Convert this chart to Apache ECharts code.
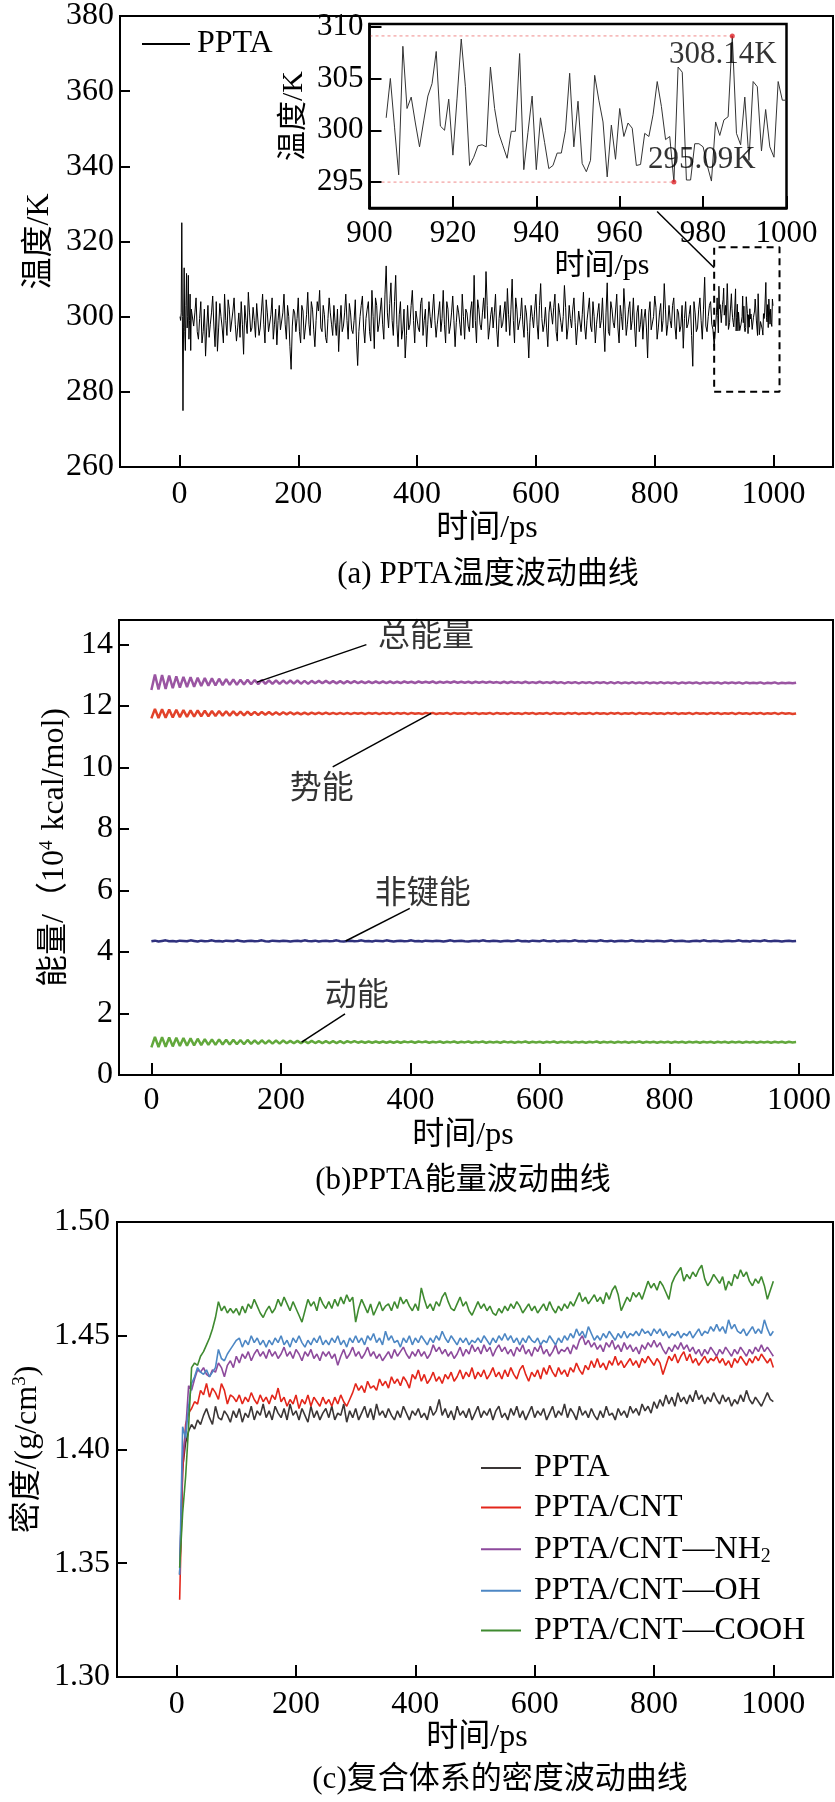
<!DOCTYPE html>
<html><head><meta charset="utf-8">
<script src="https://cdn.jsdelivr.net/npm/echarts@6/dist/echarts.min.js"></script>
<style>html,body{margin:0;padding:0;background:#fff}#c{width:835px;height:1802px}</style>
</head><body><div id="c"></div>
<script>
const FONT = "'Liberation Serif','Noto Sans CJK SC',serif";

// ---------- (a) temperature ----------
const aXTicks = [0, 200, 400, 600, 800, 1000];
const aYTicks = [260, 280, 300, 320, 340, 360, 380];
const aEarlyT = [1,2,3,4,5,6,7,8,9,10,11,12,13,14,15,16,17,18,19,20];
const aEarlyV = [300,299,301,325,300,275,297,313,296,291,303,311.5,297,300,311,294,299,306,291,302];
const aBandStart = 24, aBandStep = 4;
const aBandV = [
297.5,305,294,304,296,289.5,303,298,305.5,292,
290.8,303.5,297,306,295,302,296.5,305,293.5,301,
304,290,299,306.5,296,302.5,294.5,304,297,306,
293,301,296.5,305,298,292.5,303,297,306,294,
300,286,302,296,305,293,301.5,297,306.5,295,
302,292,304,307,296,300.5,293,305,298,303,
295,290.7,303,297.5,306,294,301,295.5,304.5,287,
300,305.5,293,302,296,307,291.5,303,298,305,
294,313.5,297,309,295,311,292,304,296.5,289,
303,298,307,293,301.5,296,305,299,292,304,
297,306,294.5,301,296,307,293,302,297.5,305.5,
292,303,298,306,294,301,296,304,311,293,
302,296.5,305,312,294,300.5,297,306,292,303,
298,304,307.5,295,310,293,302,297,305,294.5,
301,289,303,297,306,294,308.8,296,302.5,292,
304,298,306,293.5,301,296,308.3,294,303,297,
305,292.5,301.5,296,306.5,294,302,297.5,304,293,
301,297,305,290.7,309,295,302,297,306,293,
300,307.5,295,302,296.5,305,292,303,298,294,
302,289,304,297,305.5,294,301,296,308.8,295,
303,297,305,294,301,297.5,291.6,304,298,303,
286.8,301,297,305,294,310.5,296,303,298,292];
// values between the ones above (t = 26, 30, ... 898)
const aBandMidStart = 26;
const aBandMidV = [
301,296,299.5,293,302,297,294.5,301,297.5,304,
297,300,293,299,304.5,296,301.5,298,297,294.5,
298,303,295.5,301,297,299,303.5,295,301.5,298,
304.5,296,300.5,294,302,299,296.5,301,298,303,
292,297.5,301,299.5,296,303,294,300.5,298,304,
296.5,299,301.5,297,303,294.5,299.5,301,295,298.5,
302,298,296,301,299,303.5,296.5,299,293.5,296,
303,297,299.5,304,293.5,300,305,296,301.5,298,
306,301,303.5,299,304,298,300.5,294,302,295,
296.5,303,299,301.5,297,303.5,295,302,298,300,
301.5,299,298,304,299.5,298,304,295.5,301,299,
298.5,301,295,300,302,297.5,301.5,297,299,304.5,
298,301,299.5,303,297,302.5,301,296.5,299.5,297,
301,296,300.5,302,299,305,296.5,300,298,303,
296,298.5,300,302,298,303,299.5,298,297,301,
301,302.5,296,303.5,298.5,300,302.5,297,299.5,302,
298.5,297,302,300.5,297.5,299,305,296,300,298,
303.5,299,297,301,296,304,298.5,301.5,297,303,
296.5,302,298,304,299,297.5,301,296,302,299.5,
297,301,296.5,300,302.5,297,303.5,299,302,298,
299,303,297.5,302,296,303,299.5,297,300.5,295,
304,296,302,299,302,297.5,300,304,296.5];
const insetStart = 904;
const insetV = [
301.2,305.0,300.3,295.7,308.1,302.1,303.2,300.7,298.4,300.9,
303.3,304.5,307.6,300.4,300.0,303.0,297.6,303.1,308.8,304.2,
296.6,297.4,298.5,298.6,298.4,306.1,302.1,299.7,298.5,297.3,
299.9,299.9,307.4,296.2,299.8,303.3,296.2,301.2,298.8,296.3,
296.6,297.8,297.8,300.0,305.5,298.4,302.8,296.8,296.0,297.1,
305.3,302.9,300.8,295.5,300.5,297.2,302.1,299.4,300.7,300.2,
296.6,296.7,299.7,299.4,301.5,304.7,302.3,299.1,299.4,295.0,
306.1,305.6,295.2,295.2,298.7,298.7,298.4,296.6,295.1,300.8,
299.5,301.0,301.3,309.1,299.7,298.6,303.2,297.1,304.7,304.2,
298.0,302.0,298.4,297.4,304.7,302.9,302.9];
const insetXTicks = [900, 920, 940, 960, 980, 1000];
const insetYTicks = [295, 300, 305, 310];
const extremeT = [987, 973];
const extremeV = [309.1, 295.0];
const extremeText = ['308.14K', '295.09K'];
const extremeTextT = [971.8, 966.8];
const extremeTextV = [307.3, 297.1];
const zoomBoxX = [900, 1010];
const zoomBoxY = [280, 318.5];
const connectorT = [804, 900];
const connectorV = [328, 313];

// ---------- (b) energy ----------
const bXTicks = [0, 200, 400, 600, 800, 1000];
const bYTicks = [0, 2, 4, 6, 8, 10, 12, 14];
const bStep = 5.5;
const bTotal = [
12.52,13.03,12.54,13.01,12.56,12.99,12.58,12.97,12.60,12.95,
12.62,12.94,12.63,12.92,12.65,12.91,12.66,12.90,12.67,12.89,
12.68,12.88,12.69,12.87,12.69,12.86,12.70,12.86,12.71,12.85,
12.71,12.85,12.72,12.84,12.72,12.84,12.72,12.83,12.73,12.83,
12.73,12.83,12.73,12.82,12.73,12.82,12.74,12.82,12.74,12.82,
12.74,12.81,12.74,12.81,12.74,12.81,12.75,12.81,12.75,12.80,
12.75,12.80,12.75,12.80,12.75,12.80,12.75,12.80,12.75,12.79,
12.75,12.80,12.76,12.79,12.75,12.80,12.76,12.79,12.76,12.80,
12.75,12.79,12.76,12.79,12.76,12.80,12.76,12.79,12.76,12.79,
12.75,12.79,12.76,12.79,12.76,12.79,12.76,12.78,12.75,12.79,
12.75,12.79,12.76,12.78,12.75,12.79,12.75,12.78,12.75,12.79,
12.75,12.78,12.75,12.79,12.75,12.78,12.74,12.78,12.75,12.78,
12.74,12.78,12.75,12.78,12.74,12.78,12.75,12.78,12.74,12.78,
12.74,12.78,12.74,12.77,12.74,12.78,12.74,12.77,12.74,12.78,
12.74,12.77,12.74,12.78,12.74,12.77,12.74,12.77,12.73,12.77,
12.74,12.77,12.74,12.77,12.73,12.77,12.74,12.77,12.74,12.77,
12.73,12.77,12.74,12.77,12.74,12.77,12.73,12.77,12.74,12.76,
12.74,12.77,12.73,12.76,12.74,12.77,12.73,12.76,12.74,12.76,
12.74,12.76];
const bPotential = [
11.60,11.91,11.61,11.90,11.62,11.89,11.63,11.88,11.64,11.87,
11.65,11.86,11.66,11.86,11.67,11.85,11.67,11.84,11.68,11.84,
11.69,11.83,11.69,11.83,11.70,11.82,11.70,11.82,11.71,11.81,
11.71,11.81,11.72,11.81,11.72,11.80,11.72,11.80,11.73,11.80,
11.73,11.79,11.73,11.79,11.73,11.79,11.74,11.79,11.74,11.79,
11.74,11.78,11.74,11.78,11.74,11.78,11.74,11.78,11.75,11.78,
11.74,11.78,11.75,11.78,11.74,11.78,11.75,11.78,11.74,11.78,
11.75,11.78,11.74,11.78,11.75,11.77,11.74,11.78,11.75,11.78,
11.74,11.77,11.75,11.78,11.74,11.78,11.75,11.77,11.74,11.78,
11.75,11.78,11.74,11.77,11.75,11.78,11.74,11.78,11.75,11.77,
11.74,11.78,11.75,11.77,11.74,11.78,11.75,11.78,11.74,11.77,
11.75,11.78,11.74,11.78,11.75,11.77,11.74,11.78,11.75,11.78,
11.74,11.77,11.75,11.78,11.74,11.78,11.75,11.77,11.74,11.78,
11.75,11.78,11.74,11.77,11.75,11.78,11.74,11.78,11.75,11.77,
11.74,11.78,11.75,11.77,11.74,11.78,11.75,11.78,11.74,11.77,
11.75,11.78,11.74,11.78,11.75,11.77,11.74,11.78,11.75,11.78,
11.74,11.77,11.75,11.78,11.74,11.78,11.75,11.77,11.74,11.78,
11.75,11.78,11.74,11.77,11.75,11.78,11.74,11.78,11.75,11.77,
11.74,11.76];
const bNonbond = [
4.35,4.37,4.34,4.36,4.38,4.35,4.36,4.34,4.37,4.36,
4.35,4.38,4.36,4.34,4.37,4.35,4.36,4.38,4.35,4.36,
4.34,4.37,4.36,4.35,4.38,4.36,4.34,4.36,4.37,4.35,
4.36,4.38,4.35,4.34,4.37,4.36,4.35,4.37,4.36,4.34,
4.36,4.37,4.35,4.38,4.36,4.35,4.37,4.34,4.36,4.37,
4.35,4.36,4.38,4.35,4.34,4.36,4.37,4.35,4.36,4.38,
4.35,4.36,4.34,4.37,4.36,4.35,4.38,4.36,4.34,4.36,
4.37,4.35,4.36,4.38,4.35,4.36,4.34,4.37,4.36,4.35,
4.37,4.36,4.34,4.36,4.38,4.35,4.36,4.37,4.35,4.34,
4.36,4.37,4.35,4.38,4.36,4.35,4.37,4.36,4.34,4.36,
4.37,4.35,4.36,4.38,4.35,4.36,4.34,4.37,4.36,4.35,
4.38,4.36,4.35,4.37,4.34,4.36,4.37,4.35,4.36,4.38,
4.35,4.36,4.34,4.37,4.36,4.35,4.38,4.36,4.35,4.37,
4.34,4.36,4.37,4.35,4.36,4.38,4.35,4.36,4.34,4.37,
4.36,4.35,4.37,4.36,4.34,4.36,4.38,4.35,4.36,4.37,
4.35,4.34,4.36,4.37,4.35,4.38,4.36,4.35,4.37,4.36,
4.34,4.36,4.37,4.35,4.36,4.38,4.35,4.36,4.34,4.37,
4.36,4.35,4.38,4.36,4.35,4.37,4.36,4.34,4.36,4.37,
4.35,4.36];
const bKinetic = [
0.90,1.24,0.91,1.23,0.92,1.22,0.93,1.21,0.94,1.20,
0.95,1.19,0.96,1.18,0.97,1.17,0.98,1.16,0.98,1.16,
0.99,1.15,0.99,1.15,1.00,1.14,1.00,1.14,1.01,1.13,
1.01,1.13,1.02,1.12,1.02,1.12,1.02,1.12,1.03,1.11,
1.03,1.11,1.03,1.11,1.03,1.11,1.04,1.10,1.04,1.10,
1.04,1.10,1.04,1.10,1.04,1.10,1.05,1.10,1.05,1.09,
1.05,1.09,1.05,1.09,1.05,1.09,1.05,1.09,1.05,1.09,
1.05,1.09,1.06,1.09,1.05,1.09,1.06,1.09,1.05,1.08,
1.06,1.09,1.05,1.08,1.06,1.09,1.05,1.08,1.06,1.09,
1.05,1.08,1.06,1.09,1.05,1.08,1.06,1.08,1.05,1.09,
1.06,1.08,1.05,1.08,1.06,1.09,1.05,1.08,1.06,1.08,
1.05,1.08,1.06,1.09,1.05,1.08,1.06,1.08,1.05,1.08,
1.06,1.08,1.05,1.08,1.06,1.09,1.05,1.08,1.06,1.08,
1.05,1.08,1.06,1.08,1.05,1.08,1.06,1.09,1.05,1.08,
1.06,1.08,1.05,1.08,1.06,1.08,1.05,1.08,1.06,1.08,
1.05,1.08,1.06,1.08,1.05,1.08,1.06,1.08,1.05,1.08,
1.06,1.08,1.05,1.08,1.06,1.08,1.05,1.08,1.06,1.08,
1.05,1.08,1.06,1.08,1.05,1.08,1.06,1.08,1.05,1.08,
1.06,1.07];
const bLabels = ['总能量', '势能', '非键能', '动能'];
const bLabelT = [424, 263, 419, 317];
const bLabelV = [14.23, 9.27, 5.87, 2.54];
const bLeaderT = [[332, 163], [280, 432], [399, 300], [299, 232]];
const bLeaderV = [[14.0, 12.78], [10.02, 11.76], [5.42, 4.36], [1.99, 1.07]];

// ---------- (c) density ----------
const cXTicks = [0, 200, 400, 600, 800, 1000];
const cYTicks = [1.30, 1.35, 1.40, 1.45, 1.50];
const cStart = 5, cStep = 5;
const cNames = ['PPTA', 'PPTA/CNT', 'PPTA/CNT—NH2', 'PPTA/CNT—OH', 'PPTA/CNT—COOH'];
const cPPTA = [
1.345,1.392,1.403,1.408,1.411,1.409,1.413,1.411,1.415,1.418,
1.414,1.411,1.419,1.414,1.413,1.417,1.415,1.412,1.417,1.414,
1.418,1.412,1.416,1.414,1.419,1.413,1.417,1.415,1.420,1.414,
1.417,1.413,1.419,1.416,1.414,1.418,1.413,1.420,1.415,1.417,
1.413,1.418,1.415,1.412,1.419,1.414,1.417,1.413,1.416,1.418,
1.414,1.419,1.413,1.416,1.415,1.420,1.412,1.417,1.414,1.418,
1.413,1.416,1.419,1.414,1.418,1.413,1.420,1.415,1.417,1.414,
1.418,1.415,1.413,1.417,1.414,1.419,1.416,1.413,1.417,1.415,
1.418,1.414,1.416,1.413,1.419,1.415,1.417,1.422,1.415,1.418,
1.414,1.417,1.413,1.419,1.415,1.417,1.414,1.418,1.413,1.416,
1.419,1.414,1.417,1.415,1.418,1.413,1.417,1.419,1.414,1.416,
1.413,1.418,1.415,1.419,1.414,1.417,1.413,1.416,1.419,1.414,
1.417,1.415,1.418,1.413,1.416,1.419,1.414,1.417,1.415,1.420,
1.414,1.418,1.416,1.413,1.419,1.415,1.417,1.414,1.418,1.415,
1.413,1.417,1.414,1.419,1.415,1.416,1.413,1.418,1.415,1.417,
1.414,1.419,1.416,1.418,1.415,1.420,1.417,1.419,1.416,1.421,
1.418,1.422,1.419,1.424,1.420,1.423,1.419,1.425,1.421,1.423,
1.420,1.424,1.421,1.426,1.422,1.424,1.420,1.423,1.421,1.425,
1.422,1.420,1.424,1.421,1.423,1.419,1.422,1.420,1.424,1.421,
1.426,1.422,1.420,1.423,1.421,1.419,1.422,1.425,1.422,1.421];
const cCNT = [
1.334,1.390,1.411,1.416,1.418,1.421,1.420,1.426,1.424,1.429,
1.423,1.427,1.425,1.422,1.429,1.426,1.420,1.424,1.423,1.421,
1.424,1.420,1.423,1.421,1.425,1.422,1.420,1.424,1.421,1.423,
1.420,1.424,1.422,1.427,1.421,1.423,1.419,1.422,1.420,1.424,
1.418,1.422,1.420,1.424,1.419,1.423,1.421,1.419,1.423,1.420,
1.422,1.419,1.423,1.420,1.424,1.421,1.419,1.422,1.425,1.429,
1.426,1.428,1.425,1.430,1.427,1.428,1.426,1.431,1.428,1.430,
1.427,1.432,1.429,1.431,1.428,1.432,1.430,1.427,1.433,1.431,
1.435,1.430,1.433,1.429,1.431,1.434,1.430,1.432,1.429,1.433,
1.431,1.434,1.430,1.432,1.435,1.431,1.434,1.432,1.436,1.431,
1.434,1.432,1.435,1.431,1.433,1.436,1.432,1.434,1.431,1.435,
1.432,1.436,1.433,1.431,1.435,1.437,1.433,1.430,1.434,1.432,
1.435,1.431,1.436,1.433,1.437,1.434,1.432,1.436,1.433,1.435,
1.432,1.436,1.434,1.438,1.435,1.433,1.437,1.435,1.439,1.436,
1.440,1.436,1.438,1.435,1.439,1.437,1.441,1.437,1.439,1.436,
1.438,1.440,1.437,1.439,1.436,1.440,1.438,1.441,1.439,1.437,
1.440,1.438,1.433,1.437,1.441,1.439,1.442,1.438,1.441,1.443,
1.439,1.442,1.438,1.440,1.437,1.439,1.441,1.438,1.440,1.439,
1.441,1.438,1.440,1.437,1.439,1.436,1.440,1.438,1.441,1.439,
1.437,1.440,1.438,1.441,1.439,1.442,1.440,1.438,1.440,1.436];
const cNH2 = [
1.345,1.396,1.408,1.428,1.426,1.431,1.435,1.434,1.436,1.433,
1.432,1.435,1.434,1.438,1.436,1.432,1.437,1.439,1.436,1.441,
1.438,1.442,1.440,1.443,1.439,1.442,1.444,1.441,1.443,1.440,
1.444,1.441,1.443,1.440,1.442,1.445,1.441,1.443,1.440,1.444,
1.442,1.439,1.443,1.441,1.444,1.440,1.442,1.439,1.443,1.441,
1.443,1.440,1.442,1.437,1.441,1.444,1.440,1.442,1.445,1.441,
1.443,1.440,1.442,1.445,1.441,1.443,1.440,1.442,1.439,1.441,
1.443,1.440,1.444,1.441,1.443,1.445,1.442,1.440,1.443,1.441,
1.444,1.441,1.443,1.440,1.442,1.446,1.443,1.445,1.442,1.444,
1.441,1.443,1.440,1.442,1.445,1.441,1.444,1.442,1.446,1.443,
1.445,1.442,1.446,1.443,1.445,1.441,1.444,1.446,1.443,1.445,
1.442,1.444,1.441,1.445,1.443,1.446,1.442,1.444,1.441,1.445,
1.443,1.446,1.442,1.444,1.441,1.443,1.446,1.442,1.444,1.443,
1.445,1.442,1.446,1.444,1.448,1.450,1.446,1.448,1.445,1.447,
1.444,1.446,1.443,1.447,1.445,1.448,1.444,1.446,1.443,1.447,
1.444,1.446,1.443,1.445,1.442,1.446,1.444,1.447,1.445,1.448,
1.445,1.447,1.444,1.442,1.445,1.443,1.446,1.444,1.447,1.444,
1.446,1.443,1.445,1.442,1.444,1.441,1.444,1.442,1.445,1.443,
1.441,1.444,1.442,1.445,1.443,1.441,1.444,1.442,1.445,1.443,
1.441,1.444,1.442,1.445,1.443,1.446,1.443,1.445,1.443,1.441];
const cOH = [
1.345,1.410,1.405,1.419,1.429,1.432,1.436,1.434,1.433,1.435,
1.432,1.434,1.436,1.444,1.440,1.439,1.442,1.444,1.446,1.448,
1.449,1.445,1.448,1.446,1.450,1.447,1.449,1.446,1.448,1.445,
1.448,1.446,1.449,1.447,1.450,1.446,1.448,1.445,1.449,1.447,
1.450,1.447,1.445,1.448,1.446,1.449,1.447,1.450,1.446,1.448,
1.446,1.449,1.447,1.450,1.446,1.448,1.445,1.449,1.447,1.450,
1.447,1.449,1.446,1.450,1.448,1.451,1.447,1.449,1.446,1.452,
1.448,1.450,1.447,1.448,1.445,1.449,1.447,1.450,1.446,1.449,
1.447,1.450,1.448,1.446,1.449,1.447,1.450,1.448,1.452,1.449,
1.447,1.450,1.448,1.446,1.449,1.447,1.449,1.446,1.448,1.447,
1.449,1.447,1.450,1.448,1.446,1.449,1.447,1.450,1.448,1.451,
1.448,1.450,1.447,1.449,1.446,1.449,1.447,1.450,1.448,1.447,
1.449,1.446,1.448,1.447,1.450,1.448,1.446,1.449,1.447,1.450,
1.448,1.451,1.449,1.453,1.450,1.452,1.449,1.454,1.451,1.448,
1.450,1.448,1.451,1.449,1.452,1.450,1.448,1.451,1.449,1.452,
1.449,1.451,1.450,1.452,1.450,1.453,1.451,1.452,1.450,1.453,
1.451,1.453,1.450,1.452,1.449,1.451,1.450,1.452,1.449,1.451,
1.450,1.452,1.449,1.451,1.453,1.450,1.452,1.451,1.454,1.452,
1.455,1.452,1.454,1.451,1.457,1.453,1.455,1.452,1.451,1.453,
1.450,1.452,1.454,1.451,1.453,1.451,1.457,1.453,1.450,1.452];
const cCOOH = [
1.348,1.372,1.388,1.410,1.436,1.438,1.437,1.441,1.443,1.446,
1.449,1.453,1.458,1.465,1.461,1.463,1.460,1.462,1.460,1.462,
1.459,1.463,1.460,1.464,1.462,1.466,1.463,1.460,1.458,1.461,
1.463,1.460,1.462,1.466,1.463,1.467,1.464,1.461,1.465,1.462,
1.459,1.456,1.461,1.466,1.463,1.465,1.461,1.467,1.464,1.462,
1.465,1.462,1.466,1.463,1.467,1.464,1.468,1.465,1.467,1.456,
1.462,1.466,1.463,1.460,1.464,1.459,1.462,1.465,1.461,1.463,
1.464,1.461,1.465,1.462,1.467,1.464,1.466,1.463,1.461,1.464,
1.461,1.471,1.466,1.462,1.464,1.461,1.465,1.463,1.467,1.469,
1.465,1.462,1.461,1.464,1.467,1.463,1.465,1.461,1.459,1.462,
1.465,1.462,1.464,1.461,1.463,1.460,1.459,1.462,1.460,1.463,
1.461,1.464,1.462,1.465,1.463,1.460,1.462,1.464,1.461,1.463,
1.460,1.462,1.464,1.461,1.465,1.462,1.460,1.463,1.461,1.464,
1.462,1.465,1.463,1.466,1.469,1.465,1.467,1.464,1.466,1.468,
1.465,1.467,1.464,1.469,1.466,1.470,1.472,1.468,1.461,1.464,
1.467,1.465,1.469,1.467,1.469,1.466,1.470,1.474,1.471,1.473,
1.470,1.474,1.472,1.469,1.466,1.473,1.476,1.478,1.480,1.474,
1.477,1.475,1.478,1.476,1.479,1.481,1.475,1.472,1.474,1.477,
1.475,1.473,1.476,1.470,1.474,1.472,1.477,1.475,1.479,1.476,
1.478,1.474,1.472,1.475,1.473,1.476,1.472,1.466,1.470,1.474];
const cColors = ['#3b3636', '#e3261b', '#8d4a9c', '#4d87c4', '#3f8a30'];

// ---------- build ----------
const aData = [];
aEarlyT.forEach((t, i) => aData.push([t, aEarlyV[i]]));
aBandV.forEach((v, i) => {
  aData.push([aBandStart + i * aBandStep, v]);
  if (i < aBandMidV.length) aData.push([aBandMidStart + i * aBandStep, aBandMidV[i]]);
});
insetV.forEach((v, i) => aData.push([insetStart + i, v]));
const insetData = insetV.map((v, i) => [insetStart + i, v]);
const bSeries = (arr) => arr.map((v, i) => [i * bStep, v]);
const cSeries = (arr) => arr.map((v, i) => [cStart + i * cStep, v]);

const lab = (size, margin) => ({ fontSize: size, fontFamily: FONT, color: '#000', margin: margin });
const plain = (v) => String(v);

function xAx(grid, min, max, ticks, margin, opt) {
  return Object.assign({
    type: 'value', gridIndex: grid, min: min, max: max,
    axisLine: { show: true, onZero: false, lineStyle: { color: '#000', width: 2 } },
    axisTick: { show: true, inside: true, length: 12, lineStyle: { color: '#000', width: 2 }, customValues: ticks },
    axisLabel: Object.assign(lab(32, margin), { customValues: ticks, formatter: plain }),
    splitLine: { show: false }
  }, opt || {});
}
function yAx(grid, min, max, ticks, opt) {
  return Object.assign({
    type: 'value', gridIndex: grid, min: min, max: max,
    axisLine: { show: true, onZero: false, lineStyle: { color: '#000', width: 2 } },
    axisTick: { show: true, inside: true, length: 10, lineStyle: { color: '#000', width: 2 }, customValues: ticks },
    axisLabel: Object.assign(lab(32, 6), { customValues: ticks, formatter: plain }),
    splitLine: { show: false }
  }, opt || {});
}

const series = [];
series.push({ name: 'aPPTA', type: 'line', xAxisIndex: 0, yAxisIndex: 0, data: aData, symbol: 'none',
  lineStyle: { color: '#000', width: 1 }, itemStyle: { color: '#000' }, z: 3 });
series.push({ name: 'zoombox', type: 'line', xAxisIndex: 0, yAxisIndex: 0, symbol: 'none', silent: true,
  data: [[zoomBoxX[0], zoomBoxY[0]], [zoomBoxX[1], zoomBoxY[0]], [zoomBoxX[1], zoomBoxY[1]], [zoomBoxX[0], zoomBoxY[1]], [zoomBoxX[0], zoomBoxY[0]]],
  lineStyle: { color: '#000', width: 2, type: [7, 5] }, z: 4 });
series.push({ name: 'connector', type: 'line', xAxisIndex: 0, yAxisIndex: 0, symbol: 'none', silent: true,
  data: connectorT.map((t, i) => [t, connectorV[i]]), lineStyle: { color: '#000', width: 1.5 }, z: 4 });
series.push({ name: 'inset', type: 'line', xAxisIndex: 1, yAxisIndex: 1, data: insetData, symbol: 'none',
  lineStyle: { color: '#333', width: 1 }, z: 6 });
extremeT.forEach((t, i) => {
  series.push({ name: 'ext' + i, type: 'line', xAxisIndex: 1, yAxisIndex: 1, symbol: 'none', silent: true,
    data: [[900, extremeV[i]], [t, extremeV[i]]], lineStyle: { color: '#f08a8a', width: 1, type: [3, 3] }, z: 5 });
});
series.push({ name: 'extDots', type: 'scatter', xAxisIndex: 1, yAxisIndex: 1, symbolSize: 5,
  data: extremeT.map((t, i) => [t, extremeV[i]]), itemStyle: { color: '#e0262b' }, z: 7 });
series.push({ name: 'extText', type: 'scatter', xAxisIndex: 1, yAxisIndex: 1, symbolSize: 0, z: 8,
  data: extremeText.map((s, i) => ({ value: [extremeTextT[i], extremeTextV[i]], name: s })),
  label: { show: true, position: 'right', distance: 0, formatter: '{b}', fontSize: 31, fontFamily: FONT, color: '#000' } });

const bCols = ['#9a55a2', '#e2422a', '#2f317e', '#62a83c'];
[bTotal, bPotential, bNonbond, bKinetic].forEach((arr, i) => {
  series.push({ name: 'b' + i, type: 'line', xAxisIndex: 2, yAxisIndex: 2, data: bSeries(arr), symbol: 'none',
    lineStyle: { color: bCols[i], width: 2.5 }, z: 3 });
});
bLeaderT.forEach((ts, i) => {
  series.push({ name: 'lead' + i, type: 'line', xAxisIndex: 2, yAxisIndex: 2, symbol: 'none', silent: true,
    data: ts.map((t, j) => [t, bLeaderV[i][j]]), lineStyle: { color: '#000', width: 1.5 }, z: 4 });
});
series.push({ name: 'bText', type: 'scatter', xAxisIndex: 2, yAxisIndex: 2, symbolSize: 0, z: 5,
  data: bLabels.map((s, i) => ({ value: [bLabelT[i], bLabelV[i]], name: s })),
  label: { show: true, position: 'inside', formatter: '{b}', fontSize: 32, fontFamily: FONT, color: '#000' } });

[cPPTA, cCNT, cNH2, cOH, cCOOH].forEach((arr, i) => {
  series.push({ name: cNames[i], type: 'line', xAxisIndex: 3, yAxisIndex: 3, data: cSeries(arr), symbol: 'none',
    lineStyle: { color: cColors[i], width: 1.6 }, itemStyle: { color: cColors[i] }, z: 3 });
});

const gtext = (text, x, y, size) => ({ type: 'text', x: x, y: y, z: 10,
  style: { text: text, fontSize: size, fontFamily: FONT, fill: '#000', align: 'center', verticalAlign: 'middle' } });

const option = {
  animation: false,
  backgroundColor: '#fff',
  textStyle: { fontFamily: FONT, color: '#000' },
  grid: [
    { left: 120, top: 12, width: 713, height: 455, show: true, borderColor: '#000', borderWidth: 2 },
    { left: 369.5, top: 24, width: 417, height: 184, show: true, borderColor: '#000', borderWidth: 2.5, backgroundColor: '#fff', z: 5 },
    { left: 119, top: 620, width: 714, height: 455, show: true, borderColor: '#000', borderWidth: 2 },
    { left: 117, top: 1222, width: 716, height: 455, show: true, borderColor: '#000', borderWidth: 2 }
  ],
  xAxis: [
    xAx(0, -100, 1100, aXTicks, 12),
    xAx(1, 900, 1000, insetXTicks, 10, { z: 6, axisLabel: Object.assign(lab(31, 10), { customValues: insetXTicks, formatter: plain }),
      axisLine: { show: true, onZero: false, lineStyle: { color: '#000', width: 2.5 } } }),
    xAx(2, -50, 1052.5, bXTicks, 10),
    xAx(3, -100, 1100, cXTicks, 12)
  ],
  yAxis: [
    yAx(0, 260, 380, aYTicks, { name: '温度/K', nameLocation: 'middle', nameGap: 60,
      nameTextStyle: { fontSize: 32, fontFamily: FONT, color: '#000' } }),
    yAx(1, 292.5, 310.25, insetYTicks, { z: 6, name: '温度/K', nameLocation: 'middle', nameGap: 60,
      nameTextStyle: { fontSize: 30, fontFamily: FONT, color: '#000' },
      axisLabel: Object.assign(lab(31, 6), { customValues: insetYTicks, formatter: plain }),
      axisTick: { show: true, inside: true, length: 12, lineStyle: { color: '#000', width: 2 }, customValues: insetYTicks },
      axisLine: { show: true, onZero: false, lineStyle: { color: '#000', width: 2.5 } } }),
    yAx(2, 0, 14.8, bYTicks, { name: '能量/（10{sup|4} kcal/mol)', nameLocation: 'middle', nameGap: 47,
      nameTextStyle: { fontSize: 32, fontFamily: FONT, color: '#000',
        rich: { sup: { fontSize: 19, fontFamily: FONT, color: '#000', verticalAlign: 'top', padding: [0, 2, 14, 0] } } } }),
    yAx(3, 1.30, 1.50, cYTicks, { name: '密度/(g/cm{sup|3})', nameLocation: 'middle', nameGap: 64,
      axisLabel: Object.assign(lab(32, 7), { customValues: cYTicks, formatter: (v) => v.toFixed(2) }),
      nameTextStyle: { fontSize: 32, fontFamily: FONT, color: '#000',
        rich: { sup: { fontSize: 19, fontFamily: FONT, color: '#000', verticalAlign: 'top', padding: [0, 0, 14, 0] } } } })
  ],
  legend: [
    { data: ['aPPTA'], left: 137, top: 23, icon: 'rect', itemWidth: 48, itemHeight: 2,
      formatter: () => 'PPTA', textStyle: { fontSize: 32, fontFamily: FONT, color: '#000', padding: [0, 0, 0, 2] } },
    { data: cNames, orient: 'vertical', left: 476, top: 1447, icon: 'rect', itemWidth: 40, itemHeight: 2, itemGap: 7.6,
      formatter: (n) => n.endsWith('NH2') ? '{n|PPTA/CNT—NH}{s|2}' : '{n|' + n + '}',
      textStyle: { fontSize: 32, fontFamily: FONT, color: '#000', padding: [0, 0, 0, 8],
        rich: { n: { fontSize: 32, fontFamily: FONT, color: '#000', lineHeight: 34 },
                s: { fontSize: 20, fontFamily: FONT, color: '#000', lineHeight: 34, padding: [16, 0, 0, 0] } } } }
  ],
  graphic: [
    gtext('时间/ps', 602, 266, 30),
    gtext('时间/ps', 487, 529, 32),
    gtext('(a) PPTA温度波动曲线', 488, 575, 31),
    gtext('时间/ps', 463, 1136, 32),
    gtext('(b)PPTA能量波动曲线', 463, 1181, 31),
    gtext('时间/ps', 477, 1738, 32),
    gtext('(c)复合体系的密度波动曲线', 500, 1780, 31)
  ],
  series: series
};
const chart = echarts.init(document.getElementById('c'), null, { renderer: 'canvas' });
chart.setOption(option);
</script></body></html>
